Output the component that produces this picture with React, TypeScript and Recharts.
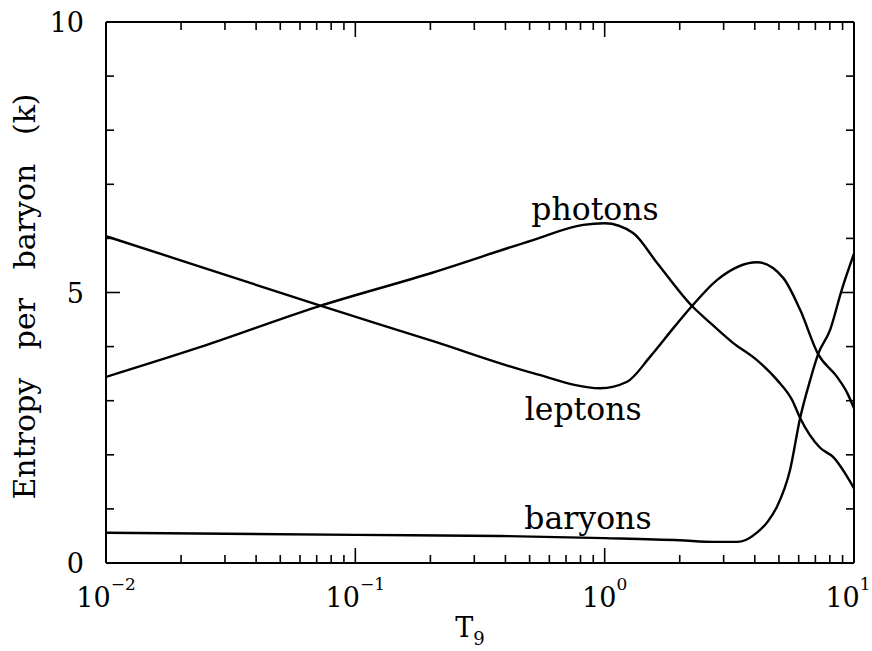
import React from "react";
import { Label, Line, LineChart, ReferenceDot, XAxis, YAxis } from "recharts";

// T9 (log scale) vs entropy per baryon, in units of k
const photons = [
  { t: 0.01, s: 3.44 },
  { t: 0.0238, s: 3.99 },
  { t: 0.0708, s: 4.74 },
  { t: 0.205, s: 5.37 },
  { t: 0.516, s: 5.97 },
  { t: 0.82, s: 6.25 },
  { t: 1.0, s: 6.28 },
  { t: 1.3, s: 6.1 },
  { t: 1.62, s: 5.55 },
  { t: 2.24, s: 4.75 },
  { t: 2.65, s: 4.44 },
  { t: 3.27, s: 4.07 },
  { t: 4.08, s: 3.75 },
  { t: 4.92, s: 3.38 },
  { t: 5.65, s: 3.01 },
  { t: 6.08, s: 2.68 },
  { t: 7.31, s: 2.13 },
  { t: 8.24, s: 1.96 },
  { t: 10, s: 1.38 },
];

const leptons = [
  { t: 0.01, s: 6.04 },
  { t: 0.0238, s: 5.48 },
  { t: 0.0708, s: 4.77 },
  { t: 0.205, s: 4.1 },
  { t: 0.516, s: 3.51 },
  { t: 0.96, s: 3.23 },
  { t: 1.23, s: 3.35 },
  { t: 1.52, s: 3.81 },
  { t: 1.9, s: 4.36 },
  { t: 2.24, s: 4.75 },
  { t: 2.82, s: 5.23 },
  { t: 4.08, s: 5.56 },
  { t: 5.2, s: 5.27 },
  { t: 6.08, s: 4.68 },
  { t: 7.18, s: 3.86 },
  { t: 8.55, s: 3.44 },
  { t: 9.4, s: 3.14 },
  { t: 10, s: 2.86 },
];

const baryons = [
  { t: 0.01, s: 0.56 },
  { t: 0.1, s: 0.52 },
  { t: 0.38, s: 0.5 },
  { t: 1.0, s: 0.46 },
  { t: 2.0, s: 0.42 },
  { t: 2.75, s: 0.39 },
  { t: 3.4, s: 0.39 },
  { t: 3.7, s: 0.43 },
  { t: 4.08, s: 0.56 },
  { t: 4.5, s: 0.76 },
  { t: 4.92, s: 1.05 },
  { t: 5.54, s: 1.72 },
  { t: 6.08, s: 2.68 },
  { t: 6.67, s: 3.38 },
  { t: 7.18, s: 3.86 },
  { t: 8.02, s: 4.31 },
  { t: 8.93, s: 5.05 },
  { t: 10, s: 5.72 },
];

const xMajor = [0.01, 0.1, 1, 10];
const xMajorLabels = ["−2", "−1", "0", "1"];
const xTicks = [
  0.01, 0.02, 0.03, 0.04, 0.05, 0.06, 0.07, 0.08, 0.09,
  0.1, 0.2, 0.3, 0.4, 0.5, 0.6, 0.7, 0.8, 0.9,
  1, 2, 3, 4, 5, 6, 7, 8, 9, 10,
];
const yTicks = [0, 1, 2, 3, 4, 5, 6, 7, 8, 9, 10];
const yMajor = [0, 5, 10];

const curveLabels = [
  { name: "photons", t: 0.915, s: 6.34 },
  { name: "leptons", t: 0.82, s: 2.64 },
  { name: "baryons", t: 0.857, s: 0.63 },
];

const FONT = "'DejaVu Serif', serif";

function BottomTick(props: any) {
  const { x, y, payload } = props;
  const i = xMajor.indexOf(payload.value);
  const major = i >= 0;
  // keep the last label inside the page
  const shift = i === xMajor.length - 1 ? -6 : 0;
  return (
    <g>
      <line x1={x} x2={x} y1={y} y2={y - (major ? 15 : 8)} stroke="#000" strokeWidth={1.6} />
      {major && (
        <text x={x + shift} y={y + 44} textAnchor="middle" fontFamily={FONT} fontSize={27} fill="#000">
          10
          <tspan dy={-17} fontSize={17}>
            {xMajorLabels[i]}
          </tspan>
        </text>
      )}
    </g>
  );
}

function TopTick(props: any) {
  const { x, y, payload } = props;
  const major = xMajor.includes(payload.value);
  return <line x1={x} x2={x} y1={y} y2={y + (major ? 15 : 8)} stroke="#000" strokeWidth={1.6} />;
}

function LeftTick(props: any) {
  const { x, y, payload } = props;
  const major = yMajor.includes(payload.value);
  return (
    <g>
      <line x1={x} x2={x + (major ? 14 : 8)} y1={y} y2={y} stroke="#000" strokeWidth={1.6} />
      {major && (
        <text x={x - 22} y={y + 10} textAnchor="end" fontFamily={FONT} fontSize={27} fill="#000">
          {payload.value}
        </text>
      )}
    </g>
  );
}

function RightTick(props: any) {
  const { x, y, payload } = props;
  const major = yMajor.includes(payload.value);
  return <line x1={x} x2={x - (major ? 14 : 8)} y1={y} y2={y} stroke="#000" strokeWidth={1.6} />;
}

function CurveLabel(props: any) {
  const vb = props.viewBox || {};
  const cx = vb.cx ?? vb.x;
  const cy = vb.cy ?? vb.y;
  return (
    <text x={cx} y={cy} textAnchor="middle" fontFamily={FONT} fontSize={31.5} fill="#000">
      {props.text}
    </text>
  );
}

function YTitle(props: any) {
  const vb = props.viewBox;
  const x = vb.x + vb.width - 71;
  const y = vb.y + vb.height / 2 + 4;
  return (
    <text
      x={x}
      y={y}
      transform={`rotate(-90, ${x}, ${y})`}
      textAnchor="middle"
      fontFamily={FONT}
      fontSize={30}
      fill="#000"
      style={{ wordSpacing: 19 }}
    >
      Entropy per baryon (k)
    </text>
  );
}

function XTitle(props: any) {
  const vb = props.viewBox;
  const x = vb.x + vb.width / 2 - 10;
  const y = vb.y + 74;
  return (
    <text x={x} y={y} textAnchor="middle" fontFamily={FONT} fontSize={27} fill="#000">
      T
      <tspan dy={8} fontSize={18}>
        9
      </tspan>
    </text>
  );
}

export default function App() {
  const axisLine = { stroke: "#000", strokeWidth: 2 };
  return (
    <div style={{ position: "absolute", left: 0, top: 0, width: 872, height: 651, background: "#fff" }}>
      <LineChart width={872} height={651} margin={{ top: 21, right: 17, bottom: 87, left: 105 }}>
        <XAxis
          xAxisId="bottom"
          orientation="bottom"
          type="number"
          dataKey="t"
          scale="log"
          domain={[0.01, 10]}
          allowDataOverflow
          ticks={xTicks}
          interval={0}
          height={1}
          tickSize={0}
          tickMargin={0}
          tickLine={false}
          axisLine={axisLine}
          tick={<BottomTick />}
        >
          <Label content={<XTitle />} />
        </XAxis>
        <XAxis
          xAxisId="top"
          orientation="top"
          type="number"
          dataKey="t"
          scale="log"
          domain={[0.01, 10]}
          allowDataOverflow
          ticks={xTicks}
          interval={0}
          height={1}
          tickSize={0}
          tickMargin={0}
          tickLine={false}
          axisLine={axisLine}
          tick={<TopTick />}
        />
        <YAxis
          yAxisId="left"
          orientation="left"
          type="number"
          domain={[0, 10]}
          allowDataOverflow
          ticks={yTicks}
          interval={0}
          width={1}
          tickSize={0}
          tickMargin={0}
          tickLine={false}
          axisLine={axisLine}
          tick={<LeftTick />}
        >
          <Label content={<YTitle />} />
        </YAxis>
        <YAxis
          yAxisId="right"
          orientation="right"
          type="number"
          domain={[0, 10]}
          allowDataOverflow
          ticks={yTicks}
          interval={0}
          width={1}
          tickSize={0}
          tickMargin={0}
          tickLine={false}
          axisLine={axisLine}
          tick={<RightTick />}
        />
        <Line xAxisId="bottom" yAxisId="left" data={photons} dataKey="s" type="monotone" stroke="#000" strokeWidth={2.4} dot={false} isAnimationActive={false} />
        <Line xAxisId="bottom" yAxisId="left" data={leptons} dataKey="s" type="monotone" stroke="#000" strokeWidth={2.4} dot={false} isAnimationActive={false} />
        <Line xAxisId="bottom" yAxisId="left" data={baryons} dataKey="s" type="monotone" stroke="#000" strokeWidth={2.4} dot={false} isAnimationActive={false} />
        {curveLabels.map((c) => (
          <ReferenceDot
            key={c.name}
            xAxisId="bottom"
            yAxisId="left"
            x={c.t}
            y={c.s}
            r={0}
            fill="none"
            stroke="none"
            label={<CurveLabel text={c.name} />}
          />
        ))}
      </LineChart>
    </div>
  );
}
